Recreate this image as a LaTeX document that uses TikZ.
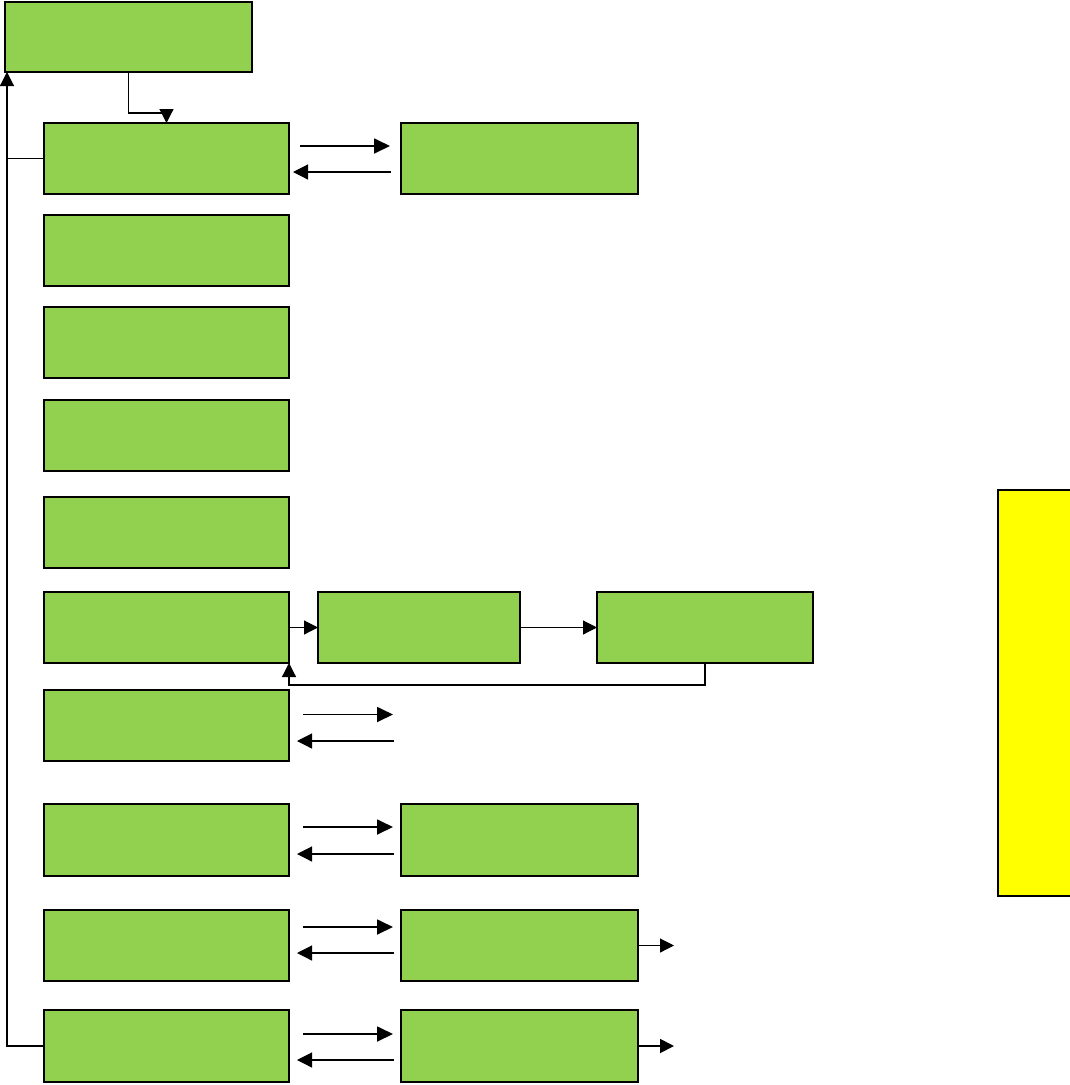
\documentclass[tikz,border=0pt]{standalone}
\usetikzlibrary{arrows.meta,calc}
\definecolor{boxgreen}{HTML}{92D050}
\definecolor{boxyellow}{HTML}{FFFF00}
\tikzset{
  gbox/.style={draw=black, fill=boxgreen, line width=2.2pt, inner sep=0pt, outer sep=0pt,
    minimum width=245pt, minimum height=71pt, anchor=north west},
  ybox/.style={draw=black, fill=boxyellow, line width=1.5pt, inner sep=0pt, outer sep=0pt, anchor=north west},
  conn/.style={draw=black, line width=1.2pt},
  arr/.style={conn, -{Triangle[length=14pt,width=14pt]}},
  fwd/.style={draw=black, line width=1.8pt, -{Triangle[length=16pt,width=15pt]}},
  bwd/.style={draw=black, line width=1.2pt, -{Triangle[length=15pt,width=15pt]}},
}
\begin{document}
\begin{tikzpicture}[x=1pt,y=-1pt]
\useasboundingbox (0,0) rectangle (1070,1085);
% top box
\node[gbox, minimum width=247pt, minimum height=70pt] (top) at (5,2) {};
% left column
\node[gbox] (r1) at (44,123) {};
\node[gbox] (r2) at (44,215) {};
\node[gbox] (r3) at (44,307) {};
\node[gbox] (r4) at (44,400) {};
\node[gbox] (r5) at (44,497) {};
\node[gbox] (r6) at (44,592) {};
\node[gbox] (r7) at (44,690) {};
\node[gbox, minimum height=72pt] (r8) at (44,804) {};
\node[gbox] (r9) at (44,910) {};
\node[gbox, minimum height=72pt] (r10) at (44,1010) {};
% right column
\node[gbox, minimum width=237pt] (s1) at (401,123) {};
\node[gbox, minimum width=237pt, minimum height=72pt] (s8) at (401,804) {};
\node[gbox, minimum width=237pt] (s9) at (401,910) {};
\node[gbox, minimum width=237pt, minimum height=72pt] (s10) at (401,1010) {};
% row 6 chain
\node[gbox, minimum width=202pt] (m6) at (318,592) {};
\node[gbox, minimum width=216pt] (n6) at (597,592) {};
% yellow box
\node[ybox, minimum width=80pt, minimum height=406pt] (y) at (998,490) {};

% top connector
\draw[arr] (top.south) -- ++(0,41) -| (r1.north);
% left feedback line
\draw[arr] (r10.west) -| ([xshift=2pt]top.south west);
\draw[conn] (r1.west) -- ([xshift=2pt]top.west |- r1.west);

% row 1 pair
\draw[fwd] ($(r1.east)+(11,-12.5)$) -- ($(r1.east)+(101,-12.5)$);
\draw[bwd] ($(s1.west)+(-10,13.5)$) -- ($(r1.east)+(4,13.5)$);
% row 7 pair
\draw[fwd] ($(r7.east)+(14,-11)$) -- ($(r7.east)+(104,-11)$);
\draw[bwd] ($(r7.east)+(105,15.5)$) -- ($(r7.east)+(8,15.5)$);
% row 8 pair
\draw[fwd] ($(r8.east)+(14,-13)$) -- ($(r8.east)+(104,-13)$);
\draw[bwd] ($(s8.west)+(-7,14)$) -- ($(r8.east)+(8,14)$);
% row 9 pair
\draw[fwd] ($(r9.east)+(14,-18.5)$) -- ($(r9.east)+(104,-18.5)$);
\draw[bwd] ($(s9.west)+(-7,7.5)$) -- ($(r9.east)+(8,7.5)$);
% row 10 pair
\draw[fwd] ($(r10.east)+(14,-12)$) -- ($(r10.east)+(104,-12)$);
\draw[bwd] ($(s10.west)+(-7,14)$) -- ($(r10.east)+(8,14)$);
% outgoing arrows
\draw[arr] (s9.east) -- ++(36,0) coordinate (o9);
\draw[arr, line width=1.8pt] (s10.east) -- ++(36,0) coordinate (o10);
% row 6 chain
\draw[arr] (r6.east) -- (m6.west);
\draw[arr] (m6.east) -- (n6.west);
\draw[arr] (n6.south) -- ++(0,22) -| (r6.south east);
\end{tikzpicture}
\end{document}
